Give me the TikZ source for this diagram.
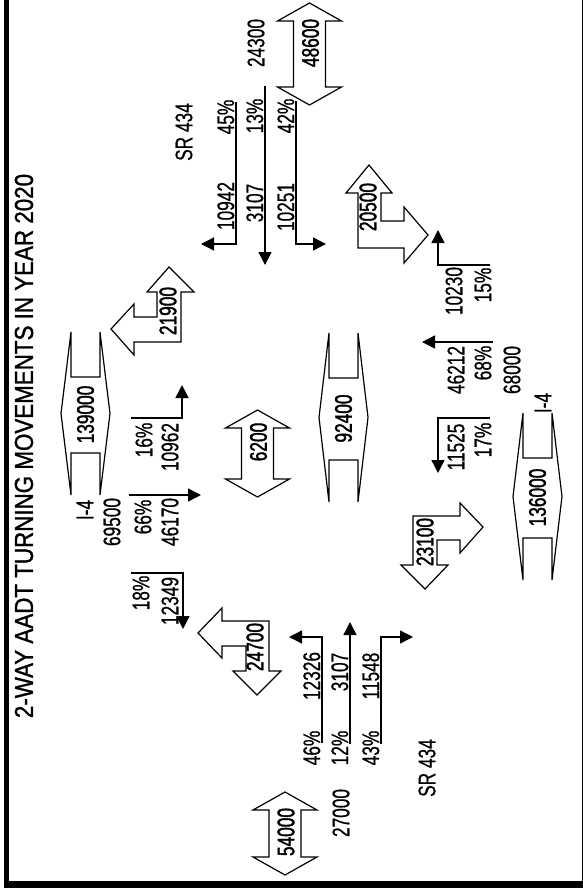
\documentclass[tikz,border=0pt]{standalone}
\usepackage{fontspec}
\newfontfamily\numfont{Liberation Sans}[FakeStretch=0.72, FakeBold=0.6]
\newfontfamily\totfont{Liberation Sans}[FakeStretch=0.72, FakeBold=1.6]
\newfontfamily\ttlfont{Liberation Sans}[FakeStretch=0.86, FakeBold=1.2]
\usetikzlibrary{arrows.meta}

\begin{document}
\begin{tikzpicture}[x=1pt, y=-1pt,
		lab/.style={rotate=90, inner sep=0pt, font=\numfont\fontsize{24}{24}\selectfont},
		tot/.style={lab, font=\totfont\fontsize{24}{24}\selectfont},
		mv/.style={line width=1.4pt, -{Triangle[length=13pt,width=13pt]}},
		bigarrow/.style={line width=1.2pt, line join=miter}]
			\useasboundingbox (0,0) rectangle (583,888);

			% frame
			\fill (4,0) rectangle (9,888);
			\fill (4,881) rectangle (583,888);
			\draw[line width=1.3pt] (582.3,0) -- (582.3,888);

			\node[rotate=90, inner sep=0pt, font=\ttlfont\fontsize{26}{26}\selectfont] (title) at (24,446) {2-WAY AADT TURNING MOVEMENTS IN YEAR 2020};

			% two-way totals on SR 434
			\foreach \n/\x/\t/\b/\ly/\lab in {sr1/309.5/3/105/43/48600, mid/257.5/410/497/442/6200, sr2/285/792/875/832/54000}
			{
				\draw[bigarrow] (\x,\t) -- ++(32,18) -- ++(-16,0) -- ++(0,{\b-\t-36}) -- ++(16,0) -- ++(-32,18)
					-- ++(-32,-18) -- ++(16,0) -- ++(0,{\t-\b+36}) -- ++(-16,0) -- cycle;
				\node[tot] (\n) at (\x+1,\ly) {\lab};
			}

			% two-way totals on I-4
			\foreach \n/\x/\t/\b/\lab in {i1/71/332/495/139000, ctr/329/333/502/92400, i2/523/413/580/136000}
			{
				\draw[bigarrow] (\x,\t) -- (\x-10,{(\t+\b)/2}) -- (\x,\b) -- ++(0,-42) -- ++(29,0) -- (\x+29,\b)
					-- (\x+39,{(\t+\b)/2}) -- (\x+29,\t) -- ++(0,45) -- ++(-29,0) -- cycle;
				\node[tot] (\n) at (\x+14.5,{(\t+\b)/2+1}) {\lab};
			}

			% ramps
			\draw[bigarrow] (169,267) -- (194,292) -- (181,292) -- (181,342) -- (134,342) -- (134,355) -- (111,329)
				-- (134,304) -- (134,317) -- (157,317) -- (157,292) -- (147,292) -- cycle;
			\node[tot] (r1) at (168,311) {21900};
			\draw[bigarrow] (369,165) -- (392,193) -- (381,193) -- (381,221) -- (404,221) -- (404,207) -- (428,235)
				-- (404,263) -- (404,248) -- (358,248) -- (358,193) -- (346,193) -- cycle;
			\node[tot] (r2) at (368,207) {20500};
			\draw[bigarrow] (483,527) -- (460,553) -- (460,540) -- (437,540) -- (437,565) -- (448,565) -- (425,589)
				-- (401,565) -- (413,565) -- (413,516) -- (460,516) -- (460,503) -- cycle;
			\node[tot] (r3) at (425,542) {23100};
			\draw[bigarrow] (198,633) -- (222,608) -- (222,621) -- (269,621) -- (269,671) -- (281,671) -- (257,695)
				-- (233,671) -- (246,671) -- (246,646) -- (222,646) -- (222,658) -- cycle;
			\node[tot] (r4) at (255,647) {24700};

			% approach from the top
			\node[lab] (srN) at (184,132) {SR 434};
			\node[lab] (aN) at (256,43) {24300};
			\draw[mv] (236,102) |- (201,244);
			\draw[mv] (265,86) -- (265,265);
			\draw[mv] (296,101) |- (326,244);
			\node[lab, anchor=south] (pN1) at (234.5,117) {45\%};
			\node[lab, anchor=south] (pN2) at (263.5,116) {13\%};
			\node[lab, anchor=south] (pN3) at (294.5,116) {42\%};
			\node[lab, anchor=south] (vN1) at (234.5,206) {10942};
			\node[lab, anchor=south] (vN2) at (263.5,203) {3107};
			\node[lab, anchor=south] (vN3) at (294.5,207) {10251};

			% approach from the right
			\node[lab] (iE) at (543,403) {I-4};
			\node[lab] (aE) at (512,370) {68000};
			\draw[mv] (490,265) -| (438,230);
			\draw[mv] (493,342) -- (422,342);
			\draw[mv] (490,418) -| (438,473);
			\node[lab] (vE1) at (454,291) {10230};
			\node[lab] (pE1) at (483,285) {15\%};
			\node[lab] (vE2) at (456,370) {46212};
			\node[lab] (pE2) at (483,363) {68\%};
			\node[lab] (vE3) at (456,447) {11525};
			\node[lab] (pE3) at (483,440) {17\%};

			% approach from the left
			\node[lab] (iW) at (85,510) {I-4};
			\node[lab] (aW) at (112,522) {69500};
			\draw[mv] (131,418) -| (182,385);
			\draw[mv] (129,495) -- (201,495);
			\draw[mv] (131,573) -| (183,629);
			\node[lab] (pW1) at (144,440) {16\%};
			\node[lab] (vW1) at (170,447) {10962};
			\node[lab] (pW2) at (143,517) {66\%};
			\node[lab] (vW2) at (170,522) {46170};
			\node[lab] (pW3) at (141,593) {18\%};
			\node[lab] (vW3) at (170,601) {12349};

			% approach from the bottom
			\node[lab] (srS) at (427,768) {SR 434};
			\node[lab] (aS) at (341,813) {27000};
			\draw[mv] (322,743) |- (289,637);
			\draw[mv] (350,744) -- (350,622);
			\draw[mv] (381,744) |- (413,637);
			\node[lab, anchor=south] (vS1) at (320.5,676) {12326};
			\node[lab, anchor=south] (vS2) at (348.5,672) {3107};
			\node[lab, anchor=south] (vS3) at (379.5,676) {11548};
			\node[lab, anchor=south] (pS1) at (320.5,748) {46\%};
			\node[lab, anchor=south] (pS2) at (348.5,748) {12\%};
			\node[lab, anchor=south] (pS3) at (379.5,748) {43\%};
		\end{tikzpicture}
\end{document}
